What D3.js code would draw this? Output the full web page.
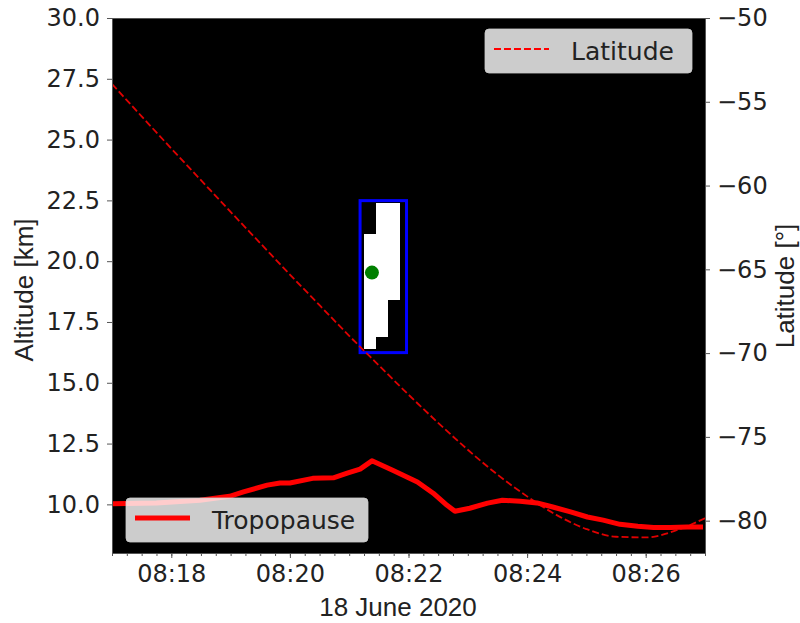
<!DOCTYPE html>
<html>
<head>
<meta charset="utf-8">
<script src="https://cdn.jsdelivr.net/npm/d3@7"></script>
<style>
    body { margin: 0; background: #ffffff; }
    svg { display: block; }
</style>
</head>
<body>
<svg id="chart" width="800" height="623"></svg>
<script>
// tropopause altitude [km]
const tropoTimes = ['08:17:00', '08:17:45', '08:18:29', '08:18:59', '08:19:13', '08:19:37', '08:19:50',
    '08:20:00', '08:20:23', '08:20:44', '08:20:58', '08:21:11', '08:21:23', '08:21:44', '08:22:09',
    '08:22:25', '08:22:39', '08:22:47', '08:23:02', '08:23:20', '08:23:35', '08:23:53', '08:24:10',
    '08:24:26', '08:24:44', '08:25:01', '08:25:17', '08:25:34', '08:25:52', '08:26:08', '08:26:25',
    '08:26:42', '08:26:58'];
const tropoAlt = [10.03, 10.06, 10.17, 10.33, 10.51, 10.79, 10.88,
    10.88, 11.07, 11.09, 11.28, 11.45, 11.79, 11.40, 10.92,
    10.46, 9.96, 9.72, 9.84, 10.05, 10.17, 10.13, 10.06,
    9.89, 9.69, 9.48, 9.35, 9.18, 9.10, 9.05, 9.05,
    9.07, 9.07];

// satellite latitude [deg]
const latTimes = ['08:17:00', '08:17:30', '08:18:00', '08:18:30', '08:19:00', '08:19:30', '08:20:00',
    '08:20:30', '08:21:00', '08:21:30', '08:22:00', '08:22:30', '08:23:00', '08:23:30', '08:24:00',
    '08:24:30', '08:25:00', '08:25:30', '08:26:00', '08:26:30', '08:27:00'];
const latValues = [-53.94, -55.87, -57.79, -59.68, -61.57, -63.44, -65.31,
    -67.14, -68.97, -70.73, -72.48, -74.16, -75.77, -77.25, -78.55,
    -79.67, -80.50, -80.96, -81.00, -80.60, -79.85];

// cloud mask columns (white cells)
const cellStart = ['08:21:15', '08:21:27', '08:21:39'];
const cellEnd = ['08:21:27', '08:21:39', '08:21:51'];
const cellBottom = [16.37, 16.87, 18.40];
const cellTop = [21.12, 22.38, 22.38];

// selection box and detection point
const boxTimes = ['08:21:11', '08:21:58'];
const boxAlt = [16.24, 22.49];
const dotTime = '08:21:23';
const dotAlt = 19.53;

const altTicks = [10, 12.5, 15, 17.5, 20, 22.5, 25, 27.5, 30];
const latTicks = [-80, -75, -70, -65, -60, -55, -50];

const parse = d3.timeParse('%H:%M:%S');
const svg = d3.select('#chart');

const m = { left: 112, right: 705, top: 18, bottom: 553 };

const x = d3.scaleTime()
    .domain([parse('08:17:00'), parse('08:27:00')])
    .range([m.left, m.right]);
const yAlt = d3.scaleLinear().domain([8, 30]).range([m.bottom, m.top]);
const yLat = d3.scaleLinear().domain([-81.93, -50]).range([m.bottom, m.top]);

svg.append('defs').append('clipPath').attr('id', 'plot-clip')
    .append('rect')
    .attr('x', m.left).attr('y', m.top)
    .attr('width', m.right - m.left).attr('height', m.bottom - m.top);

svg.append('rect')
    .attr('x', m.left).attr('y', m.top)
    .attr('width', m.right - m.left).attr('height', m.bottom - m.top)
    .attr('fill', '#000000');

const plot = svg.append('g').attr('clip-path', 'url(#plot-clip)');

// cloud mask cells
plot.selectAll('.cell')
    .data(cellStart.map((d, i) => ({ t0: parse(d), t1: parse(cellEnd[i]), b: cellBottom[i], h: cellTop[i] })))
    .enter()
    .append('rect')
    .attr('class', 'cell')
    .attr('x', (d) => x(d.t0))
    .attr('width', (d) => x(d.t1) - x(d.t0) + 0.6)
    .attr('y', (d) => yAlt(d.h))
    .attr('height', (d) => yAlt(d.b) - yAlt(d.h))
    .attr('fill', '#ffffff')
    .attr('shape-rendering', 'crispEdges');

plot.append('rect')
    .attr('x', x(parse(boxTimes[0])))
    .attr('width', x(parse(boxTimes[1])) - x(parse(boxTimes[0])))
    .attr('y', yAlt(boxAlt[1]))
    .attr('height', yAlt(boxAlt[0]) - yAlt(boxAlt[1]))
    .attr('fill', 'none')
    .attr('stroke', '#0000ff')
    .attr('stroke-width', 3);

plot.append('circle')
    .attr('cx', x(parse(dotTime)))
    .attr('cy', yAlt(dotAlt))
    .attr('r', 7)
    .attr('fill', '#008000');

const latLine = d3.line()
    .x((d, i) => x(parse(latTimes[i])))
    .y((d) => yLat(d))
    .curve(d3.curveMonotoneX);

plot.append('path')
    .datum(latValues)
    .attr('d', latLine)
    .attr('fill', 'none')
    .attr('stroke', '#e00000')
    .attr('stroke-width', 1.8)
    .attr('stroke-dasharray', '7,3');

const tropoLine = d3.line()
    .x((d, i) => x(parse(tropoTimes[i])))
    .y((d) => yAlt(d));

plot.append('path')
    .datum(tropoAlt)
    .attr('d', tropoLine)
    .attr('fill', 'none')
    .attr('stroke', '#ff0000')
    .attr('stroke-width', 5)
    .attr('stroke-linejoin', 'round');

// axes
const tickFont = (g) => g.selectAll('text')
    .attr('font-family', 'DejaVu Sans, sans-serif')
    .attr('font-size', 24)
    .attr('fill', '#222222');

svg.append('g')
    .attr('transform', `translate(${m.left},0)`)
    .call(d3.axisLeft(yAlt).tickValues(altTicks).tickFormat(d3.format('.1f')).tickSize(5).tickSizeOuter(0).tickPadding(7))
    .call(tickFont);

svg.append('g')
    .attr('transform', `translate(${m.right},0)`)
    .call(d3.axisRight(yLat).tickValues(latTicks).tickSize(5).tickSizeOuter(0).tickPadding(7))
    .call(tickFont);

svg.append('g')
    .attr('transform', `translate(0,${m.bottom})`)
    .call(d3.axisBottom(x).ticks(d3.timeMinute.every(2)).tickFormat(d3.timeFormat('%H:%M')).tickSize(5).tickSizeOuter(0).tickPadding(7))
    .call(tickFont);

svg.append('g')
    .attr('transform', `translate(0,${m.bottom})`)
    .call(d3.axisBottom(x).ticks(d3.timeSecond.every(15)).tickFormat('').tickSize(3))
    .call((g) => g.select('.domain').remove());

svg.selectAll('.domain').attr('stroke', '#555555');
svg.selectAll('.tick line').attr('stroke', '#555555');

svg.append('line')
    .attr('x1', m.left).attr('x2', m.right)
    .attr('y1', m.top + 0.5).attr('y2', m.top + 0.5)
    .attr('stroke', '#555555');

// axis labels
svg.append('text')
    .attr('x', 398).attr('y', 616)
    .attr('text-anchor', 'middle')
    .attr('font-family', 'Liberation Sans, Arial, sans-serif')
    .attr('font-size', 26)
    .attr('fill', '#222222')
    .text('18 June 2020');

svg.append('text')
    .attr('transform', 'translate(33,290) rotate(-90)')
    .attr('text-anchor', 'middle')
    .attr('font-family', 'Liberation Sans, Arial, sans-serif')
    .attr('font-size', 26)
    .attr('fill', '#222222')
    .text('Altitude [km]');

svg.append('text')
    .attr('transform', 'translate(794,286) rotate(-90)')
    .attr('text-anchor', 'middle')
    .attr('font-family', 'Liberation Sans, Arial, sans-serif')
    .attr('font-size', 26)
    .attr('fill', '#222222')
    .text('Latitude [°]');

// legends
const legend = (bx, by, bw, bh, label, dash, width) => {
    const g = svg.append('g');
    g.append('rect')
        .attr('x', bx).attr('y', by)
        .attr('width', bw).attr('height', bh)
        .attr('rx', 4)
        .attr('fill', '#ffffff')
        .attr('fill-opacity', 0.8)
        .attr('stroke', '#cccccc')
        .attr('stroke-opacity', 0.8);
    g.append('line')
        .attr('x1', bx + 9).attr('x2', bx + 64)
        .attr('y1', by + bh / 2 - 2).attr('y2', by + bh / 2 - 2)
        .attr('stroke', '#ff0000')
        .attr('stroke-width', width)
        .attr('stroke-dasharray', dash);
    g.append('text')
        .attr('x', bx + 86).attr('y', by + bh / 2 + 9)
        .attr('font-family', 'DejaVu Sans, sans-serif')
        .attr('font-size', 25)
        .attr('fill', '#222222')
        .text(label);
};

legend(485, 29, 207, 44, 'Latitude', '7,3', 2);
legend(126, 498, 242, 44, 'Tropopause', null, 5);
</script>
</body>
</html>
